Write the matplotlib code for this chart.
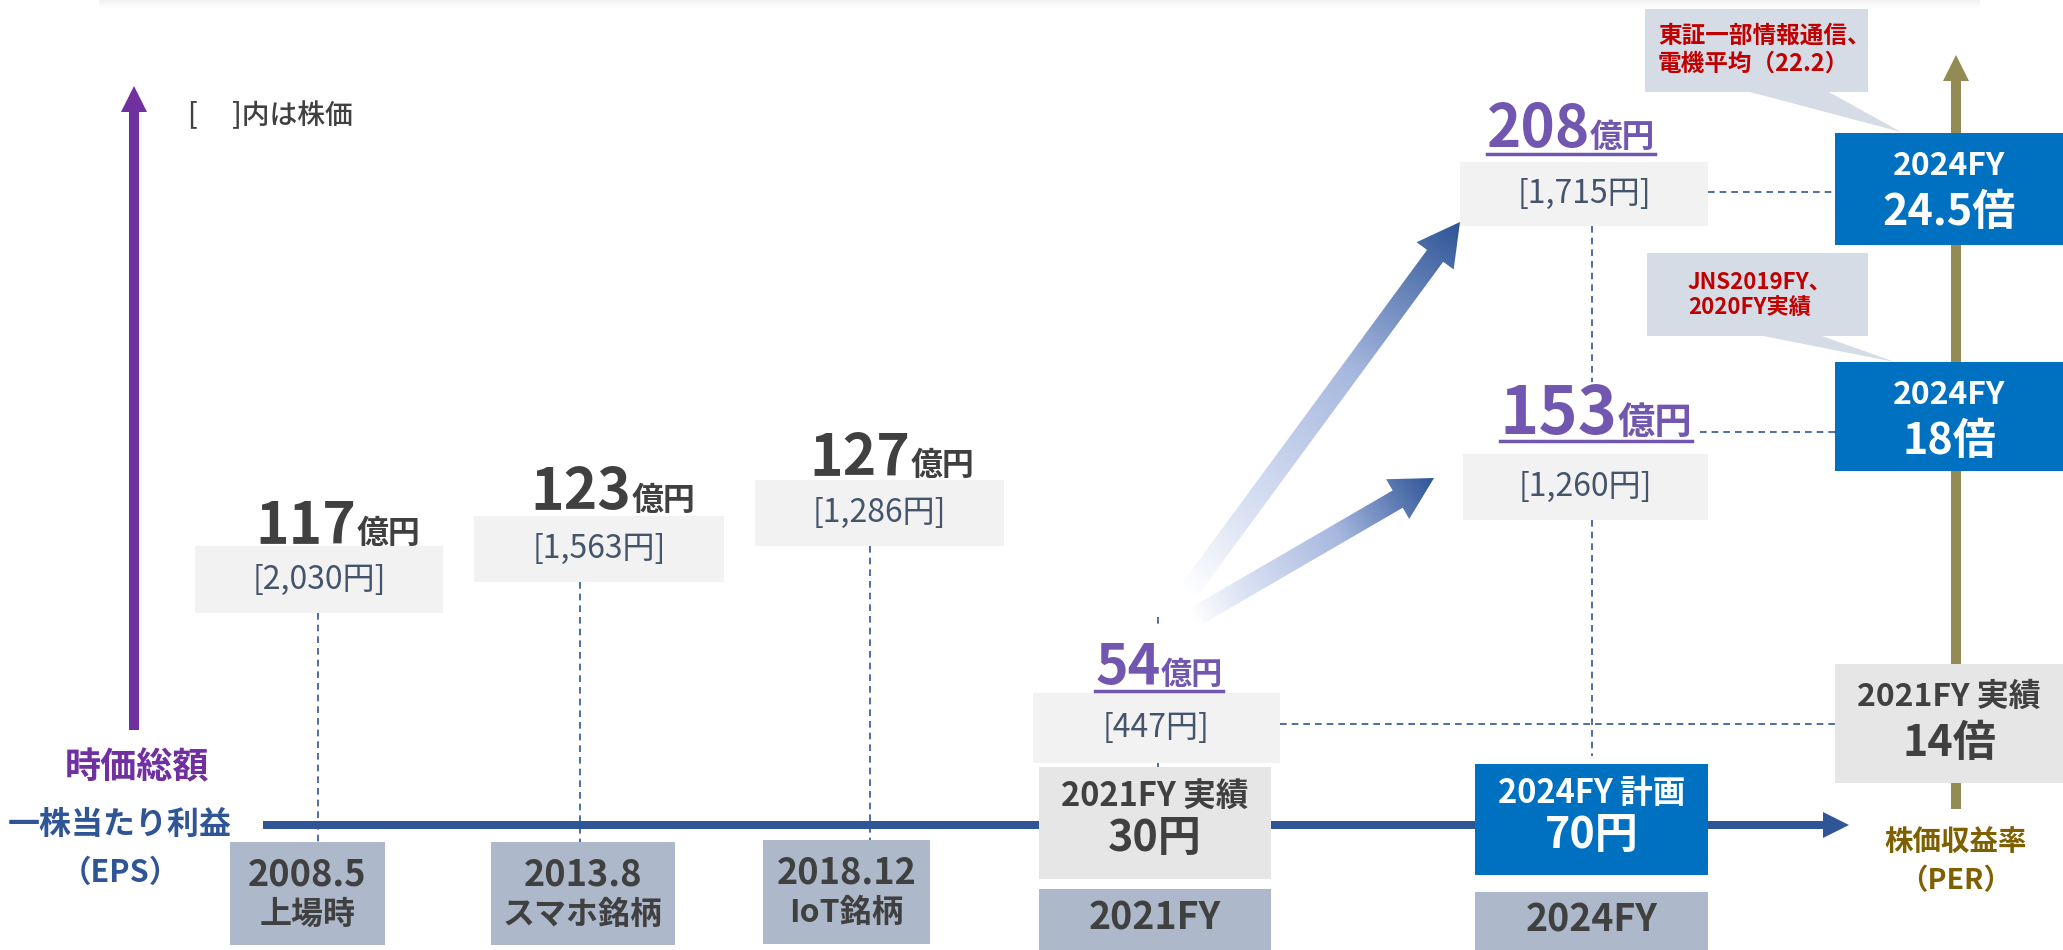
import numpy as np
import matplotlib
matplotlib.use('Agg')
import matplotlib.pyplot as plt
from matplotlib.patches import Rectangle, FancyArrow, Polygon
from matplotlib.colors import LinearSegmentedColormap

JP = 'Noto Sans CJK JP'
plt.rcParams['font.family'] = [JP, 'DejaVu Sans']

# ---- data ----
market_cap = [117, 123, 127, 54, 153, 208]          # 時価総額 (億円)
share_price = ['2,030', '1,563', '1,286', '447', '1,260', '1,715']
date_labels = ['2008.5', '2013.8', '2018.12']
date_notes = ['上場時', 'スマホ銘柄', 'IoT銘柄']
fy_labels = ['2021FY', '2024FY']
eps_labels = ['2021FY 実績', '2024FY 計画']
eps_values = [30, 70]                                # 一株当たり利益 (円)
per_labels = ['2021FY 実績', '2024FY', '2024FY']
per_values = ['14', '18', '24.5']                    # 株価収益率 (倍)
notes = ['東証一部情報通信、\n電機平均（22.2）', 'JNS2019FY、\n2020FY実績']

# ---- layout (pixels) ----
cap_x = [338, 613, 892, 1159, 1596, 1571]
cap_base = [543, 510, 475, 684, 434, 147]
cap_size = [41, 41, 41, 40, 48, 42]
price_box = [(195, 546, 443, 613), (474, 516, 724, 582), (755, 480, 1004, 546),
             (1033, 693, 1280, 763), (1463, 454, 1708, 520), (1460, 162, 1708, 226)]
date_box = [(230, 842, 385, 945), (491, 842, 675, 945), (763, 840, 930, 944)]
fy_box = [(1039, 889, 1271, 950), (1475, 892, 1708, 950)]
eps_box = [(1039, 767, 1271, 879), (1475, 764, 1708, 875)]
per_box = [(1835, 664, 2063, 783), (1835, 362, 2063, 471), (1835, 133, 2063, 245)]

DARK = '#404040'
PRICE = '#44546A'
BLUE = '#2F5597'
BOXBLUE = '#0070C0'
PURPLE = '#7030A0'
LAV = '#7157B0'
OLIVE = '#948A54'
GOLD = '#7F6000'
RED = '#C00000'

fig = plt.figure(figsize=(20.63, 9.5), dpi=100)
ax = fig.add_axes([0, 0, 1, 1])
ax.set_xlim(0, 2063)
ax.set_ylim(950, 0)
ax.axis('off')
r = fig.canvas.get_renderer()


def box(b, color, z=3):
    x0, y0, x1, y1 = b
    ax.add_patch(Rectangle((x0, y0), x1 - x0, y1 - y0, fc=color, ec='none', zorder=z))


def txt(x, y, s, size, color, weight='bold', ha='center', z=5, **kw):
    return ax.text(x, y, s, fontsize=size, color=color, fontweight=weight,
                   family=JP, ha=ha, va='center', zorder=z, **kw)


def dash(xs, ys):
    ax.plot(xs, ys, color=BLUE, lw=1.2, ls=(0, (4, 3)), zorder=1)


def big_value(x, base, num, color, nsize, usize, underline=False):
    t1 = ax.text(0, base, str(num), fontsize=nsize, color=color, fontweight='bold',
                 family=JP, ha='left', va='baseline', zorder=5)
    t2 = ax.text(0, base, '億円', fontsize=usize, color=color, fontweight='bold',
                 family=JP, ha='left', va='baseline', zorder=5)
    w1 = t1.get_window_extent(r).width
    w2 = t2.get_window_extent(r).width
    left = x - (w1 + w2) / 2
    t1.set_x(left)
    t2.set_x(left + w1)
    if underline:
        ax.plot([left, left + w1 + w2], [base + 7, base + 7], color=color, lw=2.5, zorder=5)
    return left + w1 + w2


# faint shadow at top
for i, a in enumerate([0.05, 0.035, 0.02, 0.01]):
    ax.add_patch(Rectangle((99, i * 2), 1881, 2, fc='black', alpha=a, ec='none', zorder=0))

# vertical axis arrows
ax.add_patch(FancyArrow(134, 730, 0, -644, width=10, head_width=26, head_length=26,
                        length_includes_head=True, fc=PURPLE, ec='none', zorder=2))
ax.add_patch(FancyArrow(1956, 809, 0, -754, width=10, head_width=26, head_length=26,
                        length_includes_head=True, fc=OLIVE, ec='none', zorder=2))
# EPS horizontal arrow
ax.add_patch(FancyArrow(263, 825, 1586, 0, width=8, head_width=26, head_length=26,
                        length_includes_head=True, fc=BLUE, ec='none', zorder=2))

txt(188, 116, '[　 ]内は株価', 20, DARK, weight='medium', ha='left')
txt(137, 768, '時価総額', 26, PURPLE)
txt(120, 825, '一株当たり利益', 23, BLUE)
txt(120, 873, '（EPS）', 22, BLUE)
txt(1956, 842, '株価収益率', 20.5, GOLD)
txt(1956, 881, '（PER）', 20.5, GOLD)

# dashed guide lines
dash([318, 318], [613, 842])
dash([580, 580], [582, 842])
dash([870, 870], [546, 840])
dash([1158, 1158], [617, 624])
dash([1158, 1158], [763, 768])
dash([1592, 1592], [226, 382])
dash([1592, 1592], [520, 756])
dash([1280, 1835], [724, 724])
dash([1708, 1835], [192, 192])

# market cap values and share prices
for i, cap in enumerate(market_cap):
    purple = i >= 3
    color = LAV if purple else DARK
    nsize = cap_size[i]
    right = big_value(cap_x[i], cap_base[i], cap, color, nsize, nsize * 0.56,
                      underline=purple)
    if cap == 153:
        dash([right + 8, 1835], [432, 432])
    b = price_box[i]
    box(b, '#F2F2F2')
    txt((b[0] + b[2]) / 2, (b[1] + b[3]) / 2, '[' + share_price[i] + '円]', 23, PRICE,
        weight='normal')

# date boxes
for b, d, n in zip(date_box, date_labels, date_notes):
    box(b, '#ADB9CA')
    cx = (b[0] + b[2]) / 2
    txt(cx, b[1] + 33, d, 26, DARK)
    txt(cx, b[1] + 73, n, 23, DARK)
for b, f in zip(fy_box, fy_labels):
    box(b, '#ADB9CA')
    txt((b[0] + b[2]) / 2, (b[1] + b[3]) / 2 - 1, f, 27, DARK)

# EPS boxes
for i, b in enumerate(eps_box):
    fc = '#E7E6E6' if i == 0 else BOXBLUE
    tc = DARK if i == 0 else 'white'
    box(b, fc)
    cx = (b[0] + b[2]) / 2
    txt(cx, b[1] + 29, eps_labels[i], 23.5, tc)
    txt(cx, b[1] + 71, f'{eps_values[i]}円', 31, tc)

# PER boxes
for i, b in enumerate(per_box):
    fc = '#E7E6E6' if i == 0 else BOXBLUE
    tc = DARK if i == 0 else 'white'
    box(b, fc)
    cx = (b[0] + b[2]) / 2
    txt(cx, b[1] + 33, per_labels[i], 23, tc)
    txt(cx, b[1] + 79, per_values[i] + '倍', 31, tc)

# callouts
ax.add_patch(Polygon([(1645, 9), (1868, 9), (1868, 92), (1829, 92), (1901, 132),
                      (1750, 92), (1645, 92)], closed=True, fc='#D6DCE5', ec='none', zorder=3))
ax.add_patch(Polygon([(1647, 253), (1868, 253), (1868, 336), (1822, 336), (1895, 362),
                      (1763, 336), (1647, 336)], closed=True, fc='#D6DCE5', ec='none', zorder=3))
txt(1658, 50, notes[0], 17, RED, ha='left', linespacing=1.2)
txt(1688, 295, notes[1], 16, RED, ha='left', linespacing=1.2)

# gradient growth arrows
cmap = LinearSegmentedColormap.from_list(
    'grow', [(0, '#FFFFFF'), (0.2, '#DCE3F4'), (0.6, '#A6B8DF'), (1, BLUE)])


def grad_arrow(x0, y0, x1, y1):
    arr = FancyArrow(x0, y0, x1 - x0, y1 - y0, width=20, head_width=46, head_length=42,
                     length_includes_head=True, fc='none', ec='none', zorder=4)
    ax.add_patch(arr)
    xs = np.linspace(min(x0, x1) - 40, max(x0, x1) + 40, 300)
    ys = np.linspace(min(y0, y1) - 40, max(y0, y1) + 40, 300)
    X, Y = np.meshgrid(xs, ys)
    dx, dy = x1 - x0, y1 - y0
    t = ((X - x0) * dx + (Y - y0) * dy) / (dx * dx + dy * dy)
    im = ax.imshow(np.clip(t, 0, 1), extent=[xs[0], xs[-1], ys[0], ys[-1]], origin='lower',
                   cmap=cmap, vmin=0, vmax=1, aspect='auto', zorder=4, interpolation='bilinear')
    im.set_clip_path(arr)


grad_arrow(1188, 592, 1460, 222)
grad_arrow(1193, 618, 1434, 478)

ax.set_xlim(0, 2063)
ax.set_ylim(950, 0)
fig.savefig('out.png', dpi=100, facecolor='white')
